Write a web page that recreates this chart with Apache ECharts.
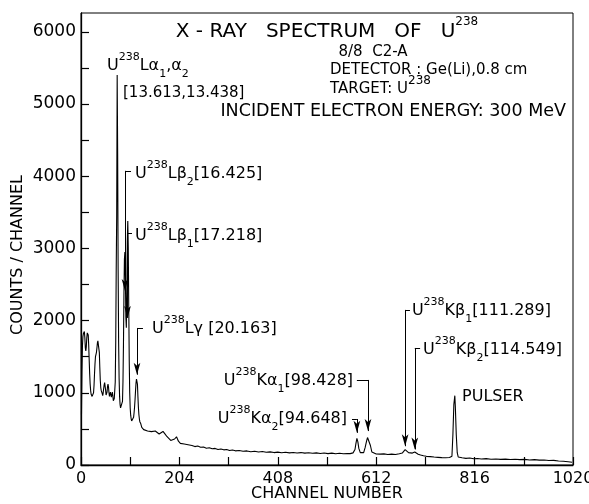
<!DOCTYPE html>
<html>
<head>
<meta charset="utf-8">
<script src="https://cdn.jsdelivr.net/npm/echarts@6/dist/echarts.min.js"></script>
<style>
  html, body { margin: 0; padding: 0; background: #ffffff; }
  #chart { width: 589px; height: 504px; }
</style>
</head>
<body>
<div id="chart"></div>
<script>
// ---- Spectrum: channel number and counts per channel ----
const channels = [
  1, 2, 3, 4, 5, 6, 7, 8, 9, 10, 11, 12, 13, 14, 15, 16, 17, 18, 19, 20,
  21, 22, 23, 24, 25, 26, 27, 28, 29, 30, 31, 32, 33, 34, 35, 36, 37, 38, 39, 40,
  41, 42, 43, 44, 45, 46, 47, 48, 49, 50, 51, 52, 53, 54, 55, 56, 57, 58, 59, 60,
  61, 62, 63, 64, 65, 66, 67, 68, 69, 70, 71, 72, 73, 74, 75, 76, 77, 78, 79, 80,
  81, 82, 83, 84, 85, 86, 87, 88, 89, 90, 91, 92, 93, 94, 95, 96, 97, 98, 99, 100,
  101, 102, 103, 104, 105, 106, 107, 108, 109, 110, 111, 112, 113, 114, 115, 116, 117, 118, 119, 120,
  121, 122, 123, 124, 125, 126, 128, 130, 134, 138, 142, 146, 150, 154, 158, 162, 166, 170, 174, 178,
  182, 186, 190, 194, 198, 202, 206, 210, 214, 218, 222, 226, 230, 236, 242, 248, 254, 260, 266, 272,
  278, 284, 290, 296, 302, 308, 314, 320, 328, 336, 344, 352, 360, 368, 376, 384, 392, 400, 408, 416,
  424, 432, 440, 448, 456, 464, 472, 480, 488, 496, 504, 512, 520, 528, 536, 544, 552, 558, 564, 568,
  570, 572, 574, 576, 579, 583, 586, 589, 592, 594, 596, 598, 600, 603, 607, 612, 620, 628, 636, 644,
  652, 660, 666, 669, 672, 675, 679, 683, 687, 690, 692, 695, 699, 704, 710, 716, 724, 732, 740, 748,
  756, 764, 769, 771, 773, 775, 776, 778, 780, 782, 785, 790, 798, 806, 814, 822, 830, 840, 850, 860,
  870, 880, 890, 900, 910, 920, 930, 940, 950, 960, 970, 980, 990, 1000, 1010, 1018
];
const counts = [
  700, 1300, 1650, 1780, 1820, 1840, 1850, 1760, 1620, 1580, 1640, 1760, 1830, 1850, 1800, 1650, 1450, 1260, 1120, 1030,
  980, 960, 950, 945, 960, 1000, 1100, 1260, 1400, 1500, 1530, 1560, 1620, 1690, 1720, 1730, 1700, 1560, 1350, 1170,
  1070, 1030, 1040, 990, 960, 1000, 1060, 1110, 1140, 1120, 1040, 970, 950, 1010, 1090, 1120, 1080, 1000, 950, 970,
  1010, 990, 940, 960, 1010, 960, 890, 880, 920, 930, 1150, 1700, 2700, 3450, 5400, 4300, 2700, 1700, 1200, 950,
  840, 790, 770, 765, 790, 880, 1150, 1650, 2350, 2850, 2950, 2600, 2050, 1900, 2400, 3100, 3380, 3000, 2200, 1450,
  1000, 790, 690, 640, 610, 600, 605, 620, 660, 720, 800, 900, 1020, 1130, 1190, 1200, 1120, 950, 800, 700,
  640, 600, 580, 570, 545, 520, 505, 490, 500, 470, 480, 462, 450, 470, 445, 430, 450, 465, 430, 395,
  380, 340, 325, 360, 390, 330, 300, 285, 290, 270, 280, 265, 270, 255, 262, 245, 250, 232, 240, 225,
  230, 215, 222, 210, 215, 200, 208, 196, 200, 190, 195, 184, 190, 180, 186, 176, 182, 172, 178, 170,
  176, 168, 174, 166, 172, 164, 170, 162, 168, 160, 166, 158, 164, 156, 162, 155, 160, 158, 168, 215,
  300, 370, 320, 230, 172, 165, 172, 240, 330, 380, 400, 360, 270, 180, 156, 152, 150, 154, 146, 150,
  145, 155, 165, 185, 212, 200, 172, 160, 165, 172, 180, 168, 150, 138, 128, 120, 116, 110, 106, 102,
  100, 103, 120, 420, 840, 960, 820, 420, 170, 112, 104, 100, 92, 96, 86, 90, 84, 88, 80, 84,
  78, 82, 76, 80, 74, 78, 70, 74, 68, 70, 62, 64, 56, 52, 45, 38
];

// ---- Axis ticks ----
const xTickValues = [0, 204, 408, 612, 816, 1020];
const yTickValues = [0, 1000, 2000, 3000, 4000, 5000, 6000];

// ---- Line identifications (rich-text strings) ----
const peakLabels = [
  '{n|U}{sup|238}{n|L}{g|α}{sub|1}{n|,}{g|α}{sub|2}',
  '{m|[13.613,13.438]}',
  '{n|U}{sup|238}{n|L}{g|β}{sub|2}{n|[16.425]}',
  '{n|U}{sup|238}{n|L}{g|β}{sub|1}{n|[17.218]}',
  '{n|U}{sup|238}{n|L}{g|γ}{n| [20.163]}',
  '{n|U}{sup|238}{n|K}{g|α}{sub|1}{n|[98.428]}',
  '{n|U}{sup|238}{n|K}{g|α}{sub|2}{n|[94.648]}',
  '{n|U}{sup|238}{n|K}{g|β}{sub|1}{n|[111.289]}',
  '{n|U}{sup|238}{n|K}{g|β}{sub|2}{n|[114.549]}',
  '{n|PULSER}'
];

// Label anchors in chart units [channel, counts] and which side the text extends to
const labelAnchors = [
  [53.9, 5529], [87.1, 5155], [112, 4032], [112, 3173], [147.2, 1885],
  [564, 1164], [551.5, 637], [686, 2134], [709, 1594], [790, 942]
];
const labelSides = ['right', 'right', 'right', 'right', 'right', 'left', 'left', 'right', 'right', 'right'];

// Leader lines: [channel of vertical stroke, top counts, arrow-tip counts, channel where hook ends]
const leaders = [
  [91.2, 4074, 2411, 103.7],
  [96.4, 3215, 2037, 105.7],
  [116.1, 1898, 1250, 128.5],
  [595, 1178, 470, 572],
  [572, 637, 445, 561.8],
  [672, 2148, 260, 682],
  [692, 1621, 215, 703]
];

const FONT = 'DejaVu Sans';
const INK = '#000000';

const spectrum = channels.map((c, i) => [c, counts[i]]);

function tok(size, lineHeight, extra) {
  return Object.assign({
    fontFamily: FONT, fontSize: size, color: INK, lineHeight: lineHeight,
    textBorderWidth: 0, textBorderColor: 'transparent', opacity: 1
  }, extra || {});
}

const richStyles = {
  n:   tok(16, 28),
  m:   tok(15, 28),
  g:   tok(16, 28),
  sup: tok(11, 12, { verticalAlign: 'top' }),
  sub: tok(11, 18, { verticalAlign: 'bottom' })
};

const markLineData = [];
leaders.forEach(([x, top, tip, hook]) => {
  markLineData.push([{ coord: [hook, top] }, { coord: [x, top] }]);
  markLineData.push([
    { coord: [x, top] },
    { coord: [x, tip], symbol: 'arrow', symbolSize: [5, 12] }
  ]);
});

const headerRich = {
  t:   { fontFamily: FONT, fontSize: 20, fill: INK, lineHeight: 32 },
  h:   { fontFamily: FONT, fontSize: 17.5, fill: INK, lineHeight: 28 },
  k:   { fontFamily: FONT, fontSize: 15, fill: INK, lineHeight: 28 },
  sup: { fontFamily: FONT, fontSize: 12, fill: INK, lineHeight: 12, verticalAlign: 'top' }
};

function headerText(x, y, text, align) {
  return {
    type: 'text', x: x, y: y, silent: true,
    style: {
      text: text, rich: headerRich, fill: INK,
      textAlign: align, align: align,
      textVerticalAlign: 'middle', verticalAlign: 'middle'
    }
  };
}

const chart = echarts.init(document.getElementById('chart'), null, { renderer: 'canvas' });

chart.setOption({
  animation: false,
  backgroundColor: '#ffffff',
  grid: {
    left: 81, right: 16, top: 13, bottom: 39,
    containLabel: false, outerBoundsMode: 'none',
    show: true, borderColor: INK, borderWidth: 1, backgroundColor: 'transparent'
  },
  xAxis: {
    type: 'value', min: 0, max: 1020, interval: 102,
    name: 'CHANNEL NUMBER', nameLocation: 'middle', nameGap: 21, nameMoveOverlap: false,
    nameTextStyle: { fontFamily: FONT, fontSize: 16, color: INK, verticalAlign: 'top' },
    axisLine: { show: true, lineStyle: { color: INK, width: 1.3 } },
    axisTick: { show: true, inside: true, length: 8, lineStyle: { color: INK, width: 1.2 } },
    axisLabel: {
      fontFamily: FONT, fontSize: 16, color: INK, margin: 6,
      showMinLabel: true, showMaxLabel: true, hideOverlap: false,
      formatter: v => (xTickValues.indexOf(v) >= 0 ? String(v) : '')
    },
    splitLine: { show: false }
  },
  yAxis: {
    type: 'value', min: 0, max: 6260, interval: 500,
    axisLine: { show: true, lineStyle: { color: INK, width: 1.3 } },
    axisTick: { show: true, inside: true, length: 8, lineStyle: { color: INK, width: 1.2 } },
    axisLabel: {
      fontFamily: FONT, fontSize: 17, color: INK, margin: 5, showMaxLabel: false,
      formatter: v => (yTickValues.indexOf(v) >= 0 ? String(v) : '')
    },
    splitLine: { show: false }
  },
  graphic: [
    {
      type: 'text', x: 18, y: 255, rotation: Math.PI / 2, silent: true,
      style: {
        text: 'COUNTS / CHANNEL', fill: INK, font: '16px "DejaVu Sans"',
        textAlign: 'center', align: 'center', textVerticalAlign: 'middle', verticalAlign: 'middle'
      }
    },
    headerText(327, 32, '{t|X - RAY   SPECTRUM   OF   U}{sup|238}', 'center'),
    headerText(373, 52, '{k|8/8  C2-A}', 'center'),
    headerText(330, 70, '{k|DETECTOR : Ge(Li),0.8 cm}', 'left'),
    headerText(330, 89, '{k|TARGET: U}{sup|238}', 'left'),
    headerText(566, 111, '{h|INCIDENT ELECTRON ENERGY: 300 MeV}', 'right')
  ],
  series: [
    {
      type: 'line', data: spectrum, showSymbol: false, symbol: 'none',
      lineStyle: { color: INK, width: 1.1 }, silent: true, z: 3
    },
    {
      type: 'line', data: [], silent: true,
      markLine: {
        silent: true, animation: false, symbol: ['none', 'none'],
        label: { show: false }, emphasis: { disabled: true },
        lineStyle: { color: INK, width: 1, type: 'solid' },
        data: markLineData
      }
    },
    {
      type: 'scatter', symbolSize: 0, silent: true, z: 5,
      data: labelAnchors.map((p, i) => ({
        value: p,
        label: { position: labelSides[i] }
      })),
      label: {
        show: true, distance: 0, color: INK,
        textBorderWidth: 0, textBorderColor: 'transparent',
        formatter: p => peakLabels[p.dataIndex],
        rich: richStyles
      }
    }
  ]
});
</script>
</body>
</html>
